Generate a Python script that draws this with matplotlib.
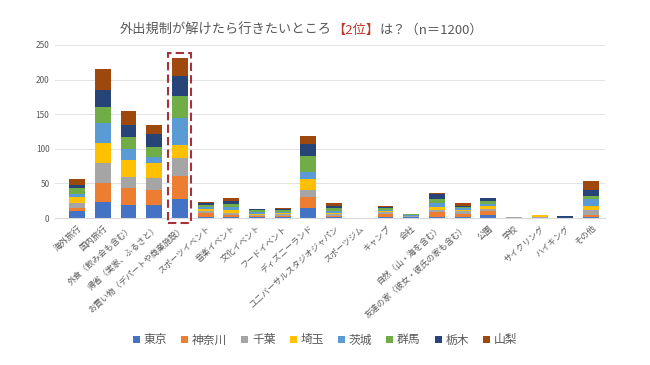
import numpy as np
import matplotlib
matplotlib.use("Agg")
import matplotlib.pyplot as plt
from matplotlib.patches import Rectangle

plt.rcParams['font.family'] = ['Noto Sans CJK JP', 'DejaVu Sans']

categories = ['海外旅行', '国内旅行', '外食（飲み会も含む）', '帰省（実家、ふるさと）',
              'お買い物（デパートや商業施設）', 'スポーツイベント', '音楽イベント', '文化イベント',
              'フードイベント', 'ディズニーランド', 'ユニバーサルスタジオジャパン', 'スポーツジム',
              'キャンプ', '会社', '自然（山・海を含む）', '友達の家（彼女・彼氏の家も含む）',
              '公園', '学校', 'サイクリング', 'ハイキング', 'その他']

prefectures = ['東京', '神奈川', '千葉', '埼玉', '茨城', '群馬', '栃木', '山梨']

tokyo    = [10, 23, 19, 19, 28, 1, 2, 2, 2, 14, 2, 0, 1, 1, 2, 2, 5, 0, 0, 0, 2]
kanagawa = [5, 27, 25, 21, 32, 6, 2, 1, 1, 16, 1, 0, 5, 0, 6, 4, 5, 0, 0, 0, 3]
chiba    = [6, 30, 15, 18, 27, 3, 3, 2, 3, 11, 3, 0, 3, 2, 3, 4, 3, 1, 2, 0, 7]
saitama  = [10, 29, 25, 21, 19, 3, 5, 1, 1, 15, 1, 0, 1, 0, 5, 2, 4, 1, 2, 0, 6]
ibaraki  = [4, 28, 15, 9, 38, 3, 4, 3, 2, 11, 3, 0, 2, 2, 5, 3, 3, 0, 0, 0, 9]
gunma    = [8, 23, 18, 14, 32, 3, 4, 2, 3, 23, 4, 0, 3, 1, 7, 1, 4, 0, 0, 0, 5]
tochigi  = [5, 25, 17, 19, 29, 3, 4, 2, 1, 17, 4, 0, 1, 0, 7, 1, 5, 0, 0, 3, 8]
yamanashi = [8, 31, 21, 13, 26, 1, 5, 0, 1, 11, 3, 0, 1, 0, 1, 5, 0, 0, 0, 0, 13]

series = [tokyo, kanagawa, chiba, saitama, ibaraki, gunma, tochigi, yamanashi]
colors = ['#4472C4', '#ED7D31', '#A5A5A5', '#FFC000',
          '#5B9BD5', '#70AD47', '#264478', '#9E480E']

highlight = 4  # お買い物 is the 2nd place

fig = plt.figure(figsize=(6.5, 3.65), dpi=100)
ax = fig.add_axes([55 / 650, 1 - 218 / 365, 550 / 650, 173 / 365])

x = np.arange(len(categories))
bottom = np.zeros(len(categories))
for name, vals, c in zip(prefectures, series, colors):
    ax.bar(x, vals, 0.62, bottom=bottom, color=c, label=name, zorder=2)
    bottom += np.array(vals)

ax.set_xlim(-0.86, 20.54)
ax.set_ylim(0, 250)
ax.set_yticks(range(0, 251, 50))
ax.grid(axis='y', color='#E3E3E3', linewidth=0.7, zorder=0)
for s in ['top', 'right', 'left']:
    ax.spines[s].set_visible(False)
ax.spines['bottom'].set_color('#D9D9D9')
ax.tick_params(axis='both', length=0, labelsize=6, colors='#595959', pad=4)
ax.set_xticks(x)
ax.set_xticklabels(categories, rotation=42, ha='right', rotation_mode='anchor')

# dashed box around the 2nd place bar
ax.add_patch(Rectangle((highlight - 0.45, -7), 0.9, 246, fill=False,
                       edgecolor='#A8323A', linestyle=(0, (4, 2)),
                       linewidth=1.5, clip_on=False, zorder=3))

# title in three pieces, middle one red
t1 = fig.text(120 / 650, 1 - 30 / 365, '外出規制が解けたら行きたいところ',
              fontsize=9.5, color='#595959', va='center', ha='left')
t2 = ax.annotate('【2位】', xycoords=t1, xy=(1, 0.5), va='center', ha='left',
                 fontsize=9.5, color='#C0392B')
ax.annotate('は？（n＝1200）', xycoords=t2, xy=(1, 0.5), va='center', ha='left',
            fontsize=9.5, color='#595959')

fig.legend(loc='center', bbox_to_anchor=(0.5, 1 - 340 / 365), ncol=8,
           frameon=False, fontsize=8.5, handlelength=0.6, handleheight=0.6,
           handletextpad=0.3, columnspacing=1.2, labelcolor='#595959')

fig.savefig('out.png', dpi=100, facecolor='white')
